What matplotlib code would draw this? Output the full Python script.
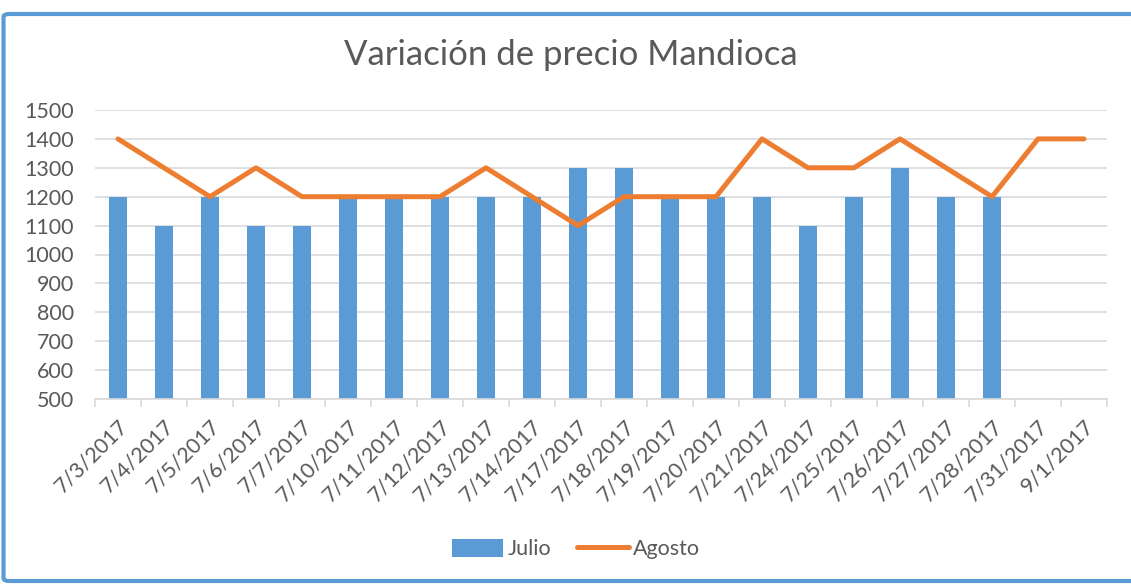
import matplotlib
matplotlib.use("Agg")
import matplotlib.pyplot as plt
from matplotlib.patches import FancyBboxPatch
import numpy as np

categories = ["7/3/2017", "7/4/2017", "7/5/2017", "7/6/2017", "7/7/2017", "7/10/2017",
              "7/11/2017", "7/12/2017", "7/13/2017", "7/14/2017", "7/17/2017", "7/18/2017",
              "7/19/2017", "7/20/2017", "7/21/2017", "7/24/2017", "7/25/2017", "7/26/2017",
              "7/27/2017", "7/28/2017", "7/31/2017", "9/1/2017"]
julio = [1200, 1100, 1200, 1100, 1100, 1200, 1200, 1200, 1200, 1200, 1300, 1300,
         1200, 1200, 1200, 1100, 1200, 1300, 1200, 1200, None, None]
agosto = [1400, 1300, 1200, 1300, 1200, 1200, 1200, 1200, 1300, 1200, 1100, 1200,
          1200, 1200, 1400, 1300, 1300, 1400, 1300, 1200, 1400, 1400]
yticks = [500, 600, 700, 800, 900, 1000, 1100, 1200, 1300, 1400, 1500]

plt.rcParams['font.family'] = ['Lato', 'DejaVu Sans']
W, H = 1131, 585
fig = plt.figure(figsize=(W / 100, H / 100), dpi=100)
ax = fig.add_axes([95 / W, 1 - 399 / H, (1107 - 95) / W, (399 - 110) / H])

txt = '#595959'
x = np.arange(len(categories))
jx = [i for i, v in enumerate(julio) if v is not None]
jv = [v for v in julio if v is not None]
bottom = 500
bars = ax.bar(jx, [v - bottom for v in jv], bottom=bottom, width=0.38, color='#5B9BD5',
              label='Julio', zorder=2)
line, = ax.plot(x, agosto, color='#ED7D31', linewidth=3.6, label='Agosto', zorder=3,
                solid_capstyle='round')

ax.set_xlim(-0.5, len(categories) - 0.5)
ax.set_ylim(500, 1500)
ax.set_yticks(yticks)
ax.set_yticklabels([str(v) for v in yticks], fontsize=15.5, color=txt)
ax.yaxis.grid(True, color='#D9D9D9', linewidth=1.2, zorder=0)
ax.set_axisbelow(True)
ax.tick_params(axis='y', length=0, pad=15)

ax.set_xticks(x)
ax.set_xticklabels(categories, rotation=45, ha='right', rotation_mode='anchor', fontsize=15.5,
                   color=txt)
ax.tick_params(axis='x', length=0, pad=12)
ax.set_xticks(np.arange(-0.5, len(categories)), minor=True)
ax.tick_params(axis='x', which='minor', length=6, color='#D9D9D9', width=1.2)

for s in ['top', 'right', 'left']:
    ax.spines[s].set_visible(False)
ax.spines['bottom'].set_color('#D9D9D9')
ax.spines['bottom'].set_linewidth(1.2)

fig.text(571 / W, 1 - 55 / H, 'Variación de precio Mandioca', ha='center', va='center',
         fontsize=25, color=txt)

leg = fig.legend([bars, line], ['Julio', 'Agosto'], loc='center',
                 bbox_to_anchor=(576 / W, 1 - 549 / H), ncol=2, frameon=False,
                 fontsize=15.5, handlelength=2.4, handleheight=0.9, columnspacing=1.2,
                 handletextpad=0.2, labelcolor=txt)

frame = FancyBboxPatch((3.5 / W, 1 - 581 / H), (1140 - 3.5) / W, (581 - 14) / H,
                       boxstyle='round,pad=0,rounding_size=0.005', transform=fig.transFigure,
                       fill=False, edgecolor='#5B9BD5', linewidth=3, clip_on=False)
fig.patches.append(frame)

fig.savefig('out.png', dpi=100)
